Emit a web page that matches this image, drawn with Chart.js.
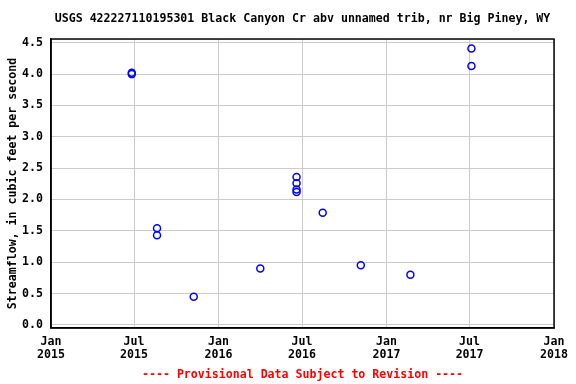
<!DOCTYPE html>
<html>
<head>
<meta charset="utf-8">
<script src="https://cdn.jsdelivr.net/npm/chart.js@4"></script>
<style>
  html, body { margin: 0; padding: 0; background: #fff; }
</style>
</head>
<body>
<canvas id="flowChart" width="576" height="384"></canvas>
<script>
const sampleDates = [
  '2015-06-26', '2015-06-26',
  '2015-08-20', '2015-08-20',
  '2015-11-08',
  '2016-04-01',
  '2016-06-19', '2016-06-19', '2016-06-19', '2016-06-19',
  '2016-08-15',
  '2016-11-06',
  '2017-02-22',
  '2017-07-05', '2017-07-05'
];
const flowValues = [
  4.02, 4.00,
  1.54, 1.43,
  0.45,
  0.90,
  2.36, 2.26, 2.16, 2.12,
  1.79,
  0.95,
  0.80,
  4.41, 4.13
];
const tickDates = ['2015-01-01', '2015-07-01', '2016-01-01', '2016-07-01', '2017-01-01', '2017-07-01', '2018-01-01'];
const tickLabels = [['Jan', '2015'], ['Jul', '2015'], ['Jan', '2016'], ['Jul', '2016'], ['Jan', '2017'], ['Jul', '2017'], ['Jan', '2018']];
const yTicks = [0, 0.5, 1, 1.5, 2, 2.5, 3, 3.5, 4, 4.5];

const START = Date.UTC(2015, 0, 1);
function dayOffset(s) {
  const [y, m, d] = s.split('-').map(Number);
  return (Date.UTC(y, m - 1, d) - START) / 86400000;
}
const tickDays = tickDates.map(dayOffset);
const points = sampleDates.map((d, i) => ({ x: dayOffset(d), y: flowValues[i] }));

const monoBold = { family: "'DejaVu Sans Mono', monospace", size: 11.6, weight: 'bold' };

new Chart(document.getElementById('flowChart').getContext('2d'), {
  type: 'scatter',
  data: {
    datasets: [{
      data: points,
      pointStyle: 'circle',
      pointRadius: 3.5,
      pointBorderWidth: 1.5,
      borderColor: '#0000ff',
      backgroundColor: 'rgba(0,0,0,0)'
    }]
  },
  options: {
    responsive: false,
    animation: false,
    layout: { padding: { left: 0, right: 21, top: 0, bottom: 0 } },
    plugins: {
      legend: { display: false },
      tooltip: { enabled: false },
      title: {
        display: true,
        fullSize: false,
        text: 'USGS 422227110195301 Black Canyon Cr abv unnamed trib, nr Big Piney, WY',
        color: '#000',
        font: { ...monoBold, lineHeight: 1.2 },
        padding: { top: 12, bottom: 13.1 }
      },
      subtitle: {
        display: true,
        fullSize: false,
        position: 'bottom',
        text: '---- Provisional Data Subject to Revision ----',
        color: '#ff0000',
        font: { ...monoBold, lineHeight: 1.2 },
        padding: { top: 8, bottom: 2.5 }
      }
    },
    scales: {
      x: {
        type: 'linear',
        min: 0,
        max: tickDays[tickDays.length - 1],
        afterBuildTicks: axis => { axis.ticks = tickDays.map(v => ({ value: v })); },
        afterFit: axis => { axis.height = 384 - 328 - 24.4; },
        ticks: {
          color: '#000',
          font: { ...monoBold, lineHeight: 1.1 },
          padding: 8,
          maxRotation: 0,
          callback: (v) => tickLabels[tickDays.indexOf(v)]
        },
        grid: { color: '#cccccc', drawTicks: false },
        border: { color: '#000', width: 1.5 }
      },
      y: {
        min: -0.05,
        max: 4.56,
        afterBuildTicks: axis => { axis.ticks = yTicks.map(v => ({ value: v })); },
        afterFit: axis => { axis.width = 51; },
        ticks: {
          color: '#000',
          font: monoBold,
          padding: 8,
          callback: v => v.toFixed(1)
        },
        title: {
          display: true,
          text: 'Streamflow, in cubic feet per second',
          color: '#000',
          font: monoBold,
          padding: { top: 6, bottom: 0 }
        },
        grid: { color: '#cccccc', drawTicks: false },
        border: { color: '#000', width: 1.5 }
      }
    }
  },
  plugins: [{
    id: 'frame',
    afterDraw(chart) {
      const { ctx, chartArea: a } = chart;
      ctx.save();
      ctx.strokeStyle = '#000';
      ctx.lineWidth = 1.5;
      ctx.strokeRect(a.left, a.top, a.right - a.left, a.bottom - a.top);
      ctx.restore();
    }
  }]
});
</script>
</body>
</html>
